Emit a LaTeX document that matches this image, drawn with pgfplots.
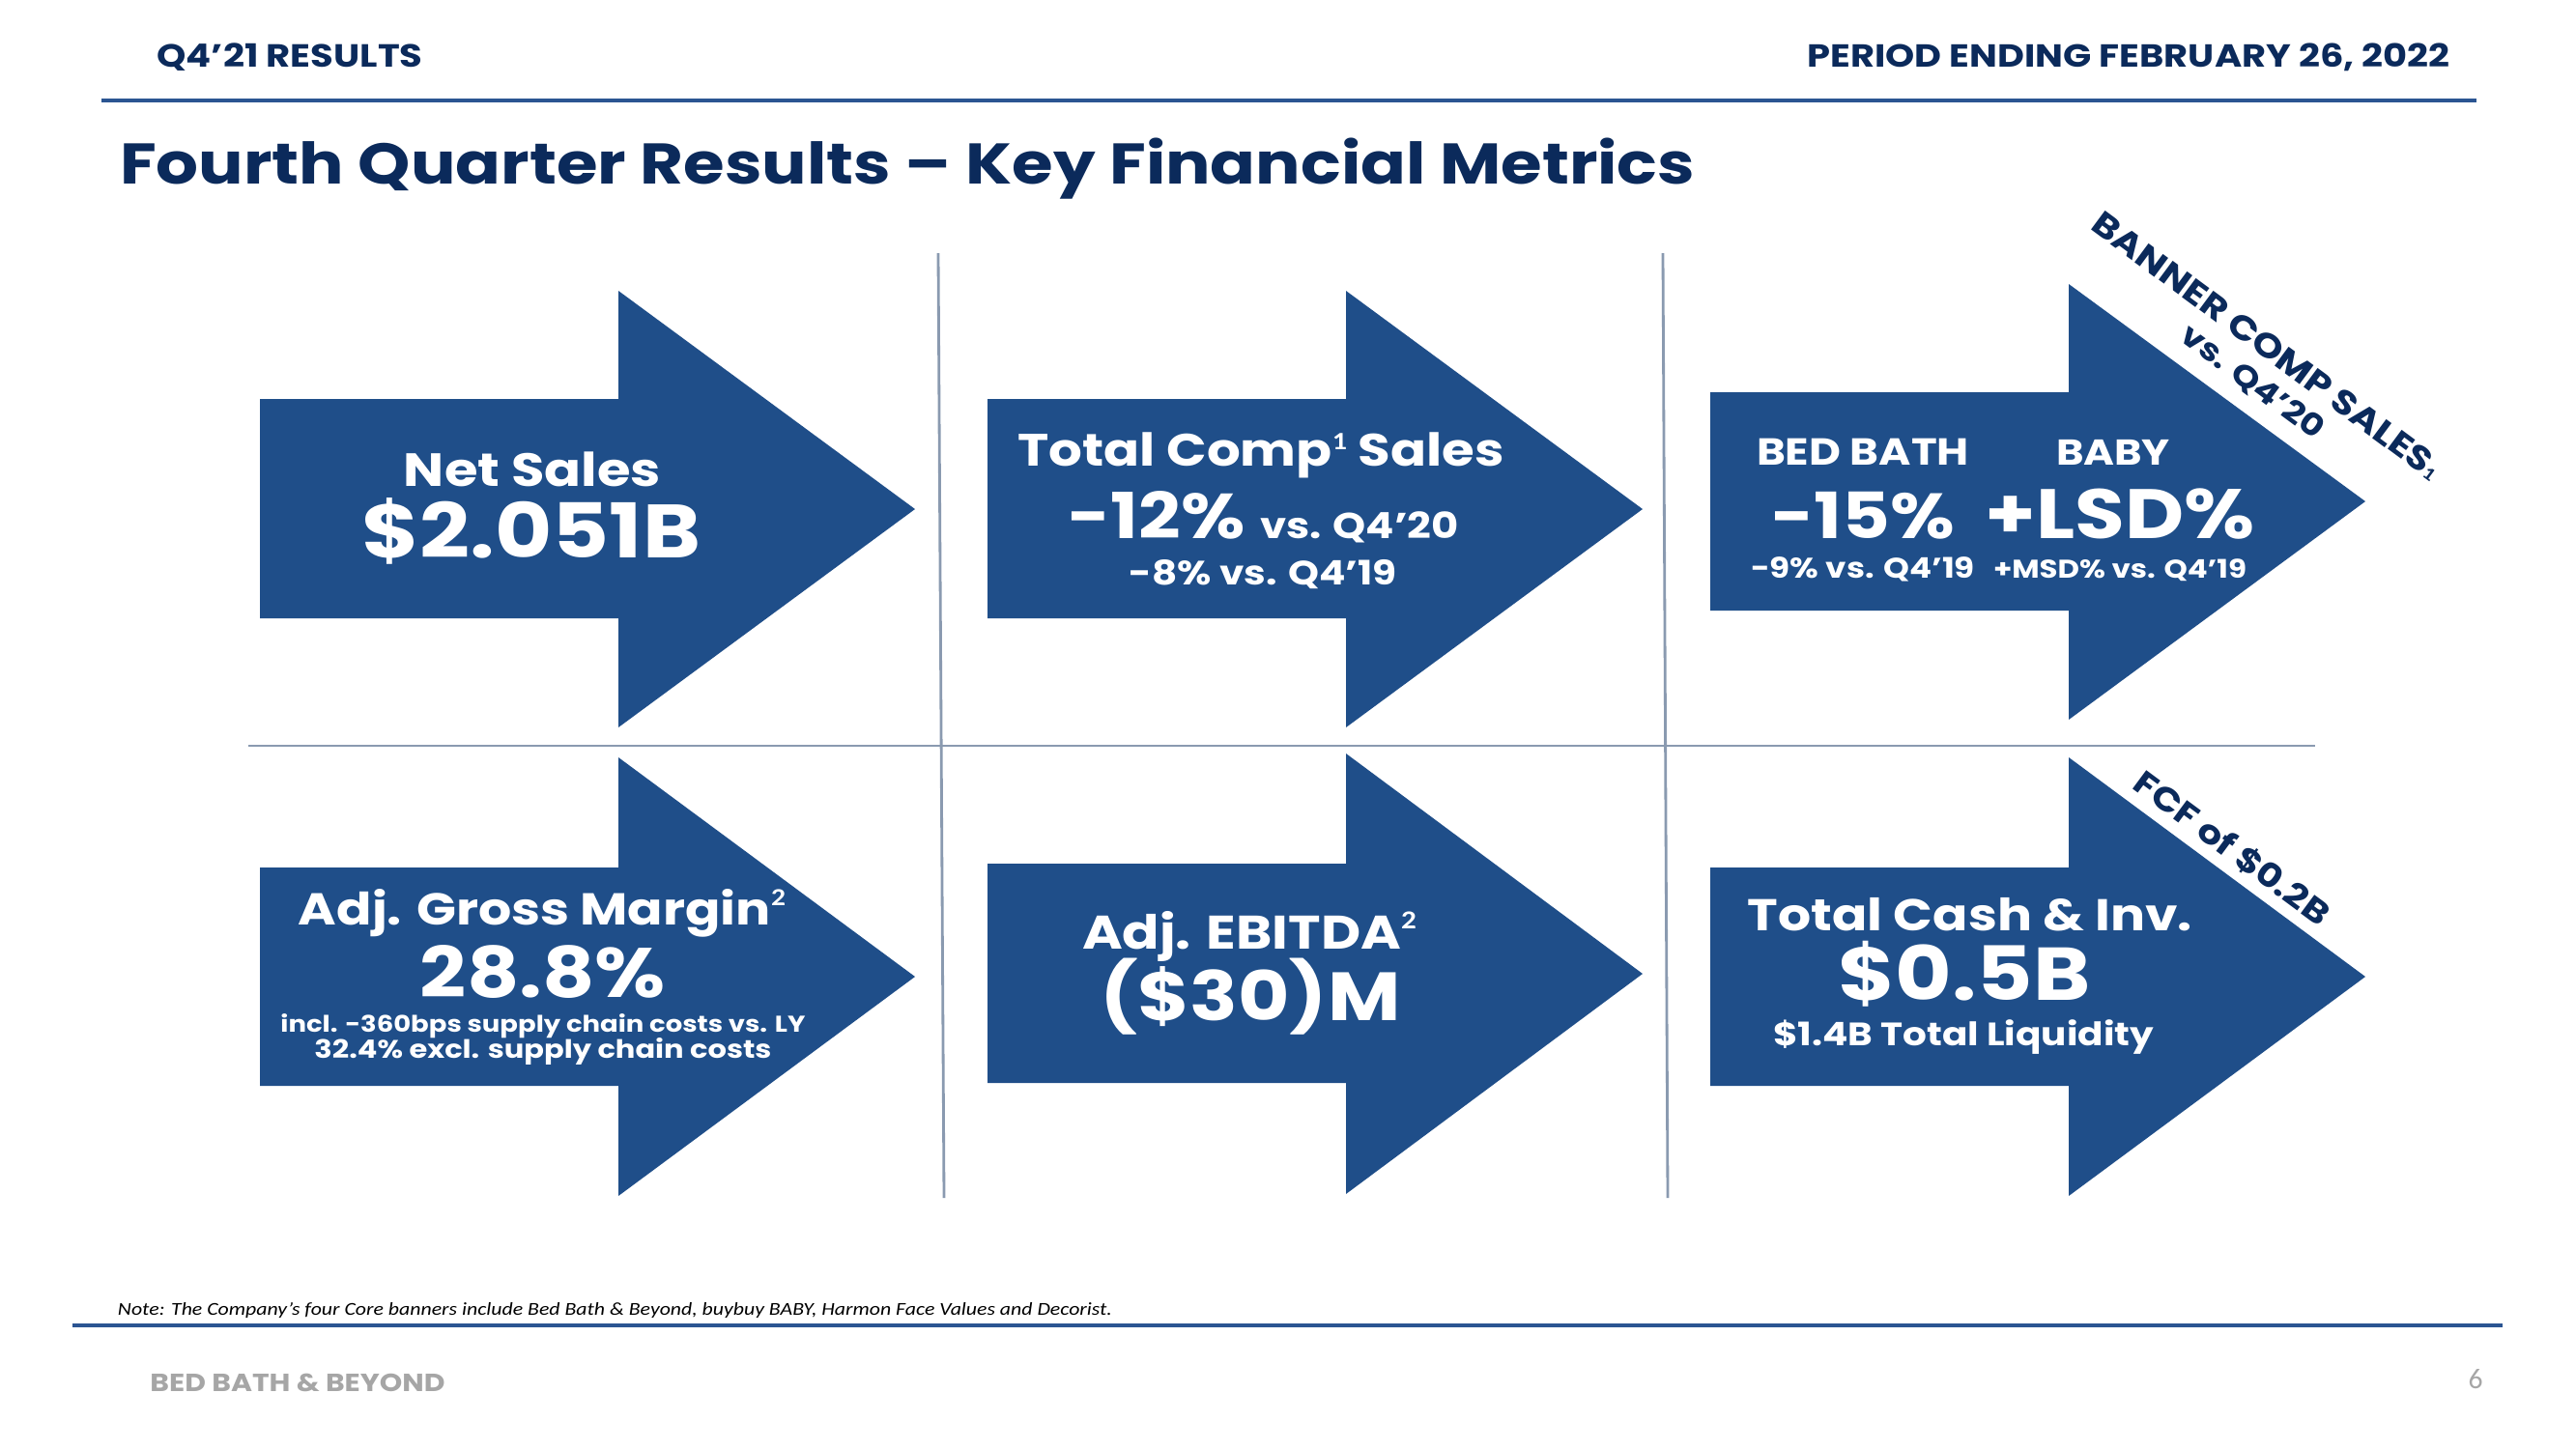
\documentclass[border=0pt]{standalone}
\usepackage{fontspec}
\setmainfont{Poppins}
\newfontfamily\notefont{Carlito}
\usepackage{graphicx}
\usepackage{pgfplots}
\pgfplotsset{compat=1.18}
\definecolor{arrowblue}{HTML}{1F4E89}
\definecolor{navy}{HTML}{0B2A5B}
\definecolor{divider}{HTML}{8A9AB0}
\definecolor{rulecol}{HTML}{2B5592}
\definecolor{logogray}{HTML}{A6A6A6}
\newlength\px
\setlength\px{0.1mm}
% [options] {x}{baseline y}{width px}{text}
\newcommand{\T}[5][]{\node[inner sep=0pt, outer sep=0pt, text=white, anchor=base, #1] at (axis cs:#2,#3) {\resizebox{#4\px}{!}{\scalebox{1}[0.86]{#5}}};}
\newcommand{\supnum}[2][0.22em]{\raisebox{#1}{\notefont\fontsize{5.5}{5.5}\selectfont #2}}
\begin{document}
\begin{tikzpicture}
\begin{axis}[
  width=266.6mm, height=150mm, scale only axis,
  xmin=0, xmax=2666, ymin=0, ymax=1500, y dir=reverse,
  hide axis, clip=false]
% background frame
\addplot[fill=white, draw=none] coordinates {(0,0)(2666,0)(2666,1500)(0,1500)} \closedcycle;
% rules
\addplot[draw=rulecol, line width=1.1pt] coordinates {(105,104)(2563,104)};
\addplot[draw=rulecol, line width=1.3pt] coordinates {(75,1372)(2590,1372)};
% dividers
\addplot[draw=divider, line width=0.8pt] coordinates {(971,262)(977,1240)};
\addplot[draw=divider, line width=0.8pt] coordinates {(1721,262)(1726,1240)};
\addplot[draw=divider, line width=0.8pt] coordinates {(257,772)(2396,772)};
% arrows
\addplot[fill=arrowblue, draw=none] coordinates {(269,413)(640,413)(640,301)(947,527)(640,753)(640,640)(269,640)} --cycle;
\addplot[fill=arrowblue, draw=none] coordinates {(1022,413)(1393,413)(1393,301)(1700,527)(1393,753)(1393,640)(1022,640)} --cycle;
\addplot[fill=arrowblue, draw=none] coordinates {(1770,406)(2141,406)(2141,294)(2448,519)(2141,745)(2141,632)(1770,632)} --cycle;
\addplot[fill=arrowblue, draw=none] coordinates {(269,898)(640,898)(640,784)(947,1011)(640,1238)(640,1124)(269,1124)} --cycle;
\addplot[fill=arrowblue, draw=none] coordinates {(1022,894)(1393,894)(1393,780)(1700,1008)(1393,1236)(1393,1121)(1022,1121)} --cycle;
\addplot[fill=arrowblue, draw=none] coordinates {(1770,898)(2141,898)(2141,784)(2448,1011)(2141,1238)(2141,1124)(1770,1124)} --cycle;
% header
\T[text=navy]{300}{69}{275}{\bfseries Q4’21 RESULTS}
\T[text=navy]{2203}{69}{665}{\bfseries PERIOD ENDING FEBRUARY 26, 2022}
\T[text=navy, anchor=base west]{124}{190}{1630}{\bfseries Fourth Quarter Results – Key Financial Metrics}
% arrow 1
\T{551}{503}{266}{\bfseries Net Sales}
\T{550}{577}{350}{\bfseries \$2.051B}
% arrow 2
\T{1305}{482}{503}{\bfseries Total Comp\supnum[0.36em]{1} Sales}
\T{1197}{557}{183}{\bfseries -12\%}
\T{1407}{557}{206}{\bfseries vs. Q4’20}
\T{1307}{605}{277}{\bfseries -8\% vs. Q4’19}
% arrow 3
\T{1928}{481}{220}{\bfseries BED BATH}
\T{2187}{481}{118}{\bfseries BABY}
\T{1928}{557}{190}{\bfseries -15\%}
\T{2194}{557}{279}{\bfseries +LSD\%}
\T{1928}{598}{232}{\bfseries -9\% vs. Q4’19}
\T{2194}{598}{262}{\bfseries +MSD\% vs. Q4’19}
\T[text=navy, rotate=-36.5, anchor=center]{2346}{358}{440}{\bfseries BANNER COMP SALES\supnum[-0.05em]{1}}
\T[text=navy, rotate=-36.5, anchor=center]{2331}{396}{175}{\bfseries vs. Q4’20}
% arrow 4
\T{561}{957}{504}{\bfseries Adj. Gross Margin\supnum[0.42em]{2}}
\T{562}{1032}{254}{\bfseries 28.8\%}
\T{562}{1068}{543}{\bfseries incl. -360bps supply chain costs vs. LY}
\T{562}{1095}{473}{\bfseries 32.4\% excl. supply chain costs}
% arrow 5
\T{1293}{982}{346}{\bfseries Adj. EBITDA\supnum[0.42em]{2}}
\T{1294}{1056}{311}{\bfseries (\$30)M}
% arrow 6
\T{2039}{963}{460}{\bfseries Total Cash \& Inv.}
\T{2033}{1035}{261}{\bfseries \$0.5B}
\T{2032}{1082}{394}{\bfseries \$1.4B Total Liquidity}
\T[text=navy, rotate=-36.5, anchor=center]{2310}{878}{242}{\bfseries FCF of \$0.2B}
% footer
\T[text=black, anchor=base west]{122}{1361}{1029}{\notefont\itshape Note: The Company’s four Core banners include Bed Bath \& Beyond, buybuy BABY, Harmon Face Values and Decorist.}
\T[text=logogray]{308}{1440}{305}{\bfseries BED BATH \& BEYOND}
\node[inner sep=0pt, text=logogray] at (axis cs:2562,1428) {\resizebox{!}{20\px}{\notefont 6}};
\end{axis}
\end{tikzpicture}
\end{document}
